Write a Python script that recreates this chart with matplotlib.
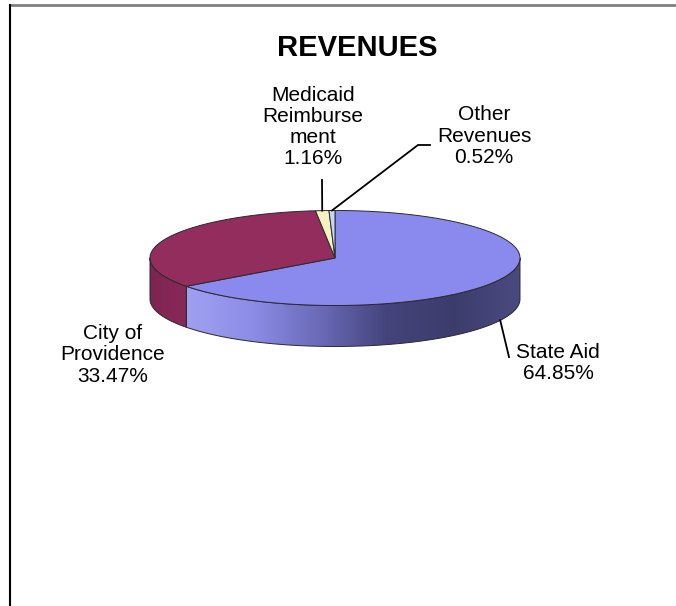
import numpy as np
import matplotlib.pyplot as plt
from matplotlib.patches import Polygon
from matplotlib.colors import LinearSegmentedColormap

plt.rcParams['font.family'] = ['Liberation Sans', 'DejaVu Sans']

# revenue shares (percent), drawn clockwise from 12 o'clock
labels = ['State Aid', 'City of\nProvidence', 'Medicaid\nReimburse\nment', 'Other\nRevenues']
shares = [64.85, 33.47, 1.16, 0.52]
top_colors = ['#8a8aee', '#932d5e', '#f6f2c0', '#c6d6f6']
side_colors = [['#a0a0f2', '#8c8ce6', '#6a6ab8', '#44447c', '#3c3c6c', '#4a4a80'],
               ['#7e2450', '#8a2a5a'],
               ['#d8d4a0', '#d8d4a0'],
               ['#a8b8d8', '#a8b8d8']]

# pie geometry in pixel units
cx, cy = 335, 258
rx, ry = 185, 47.5
depth = 41

# label placement: (x, y) centre of each text block
label_pos = [(558, 363), (113, 355), (313, 127), (484, 136)]
# leader line vertices after the anchor on the pie
leader_pts = [[(509, 357)], [], [(322, 180)], [(418, 145), (430, 145)]]

fig = plt.figure(figsize=(6.76, 6.06), dpi=100)
ax = fig.add_axes([0, 0, 1, 1])


def ell(t, dy=0.0):
    t = np.radians(t)
    return np.column_stack([cx + rx * np.cos(t), cy - ry * np.sin(t) + dy])


fracs = np.array(shares) / sum(shares)
ends = 90 - 360 * np.cumsum(fracs)
starts = np.concatenate([[90], ends[:-1]])

# side walls (only the front half, 180..360 deg, is visible)
for i in range(len(shares)):
    a1, a0 = starts[i], ends[i]  # clockwise: a0 < a1
    lo, hi = a0 % 360, a1 % 360
    if hi <= lo:
        hi += 360
    segs = []
    for base in (0, 360):
        s, e = max(lo, 180 + base), min(hi, 360 + base)
        if e > s:
            segs.append((s, e))
    for s, e in segs:
        t = np.linspace(s, e, 120)
        pts = np.vstack([ell(t), ell(t[::-1], depth)])
        poly = Polygon(pts, closed=True, facecolor='none', edgecolor='#2a2a2a', lw=0.7, zorder=3)
        ax.add_patch(poly)
        cmap = LinearSegmentedColormap.from_list('side%d' % i, side_colors[i])
        x0, x1 = pts[:, 0].min(), pts[:, 0].max()
        grad = np.linspace(0, 1, 256).reshape(1, -1)
        im = ax.imshow(grad, cmap=cmap, extent=(x0, x1, pts[:, 1].max(), pts[:, 1].min()),
                       aspect='auto', zorder=2, interpolation='bilinear')
        clip = Polygon(pts, closed=True, transform=ax.transData)
        im.set_clip_path(clip)

# top face wedges
for i in range(len(shares)):
    t = np.linspace(starts[i], ends[i], 200)
    pts = np.vstack([[cx, cy], ell(t)])
    ax.add_patch(Polygon(pts, closed=True, facecolor=top_colors[i],
                         edgecolor='#2a2a2a', lw=0.7, zorder=4))

# labels with leader lines
for i, lab in enumerate(labels):
    text = '%s\n%.2f%%' % (lab, shares[i])
    ax.text(label_pos[i][0], label_pos[i][1], text, ha='center', va='center',
            fontsize=15, linespacing=1.15, color='black', zorder=6)
    if leader_pts[i]:
        mid = (starts[i] + ends[i]) / 2
        dy = depth if np.sin(np.radians(mid)) < 0 else 0
        anchor = ell([mid], dy)[0]
        xs = [anchor[0]] + [p[0] for p in leader_pts[i]]
        ys = [anchor[1]] + [p[1] for p in leader_pts[i]]
        ax.plot(xs, ys, color='black', lw=1.3, zorder=5)

ax.text(357, 48, 'REVENUES', ha='center', va='center', fontsize=21,
        fontweight='bold', zorder=6)

# chart area border
ax.plot([9.5, 676], [5, 5], color='#808080', lw=2, zorder=7)
ax.plot([9.5, 9.5], [5, 606], color='black', lw=1.5, zorder=7)

ax.set_xlim(0, 676)
ax.set_ylim(606, 0)
ax.axis('off')

fig.savefig('out.png', dpi=100)
